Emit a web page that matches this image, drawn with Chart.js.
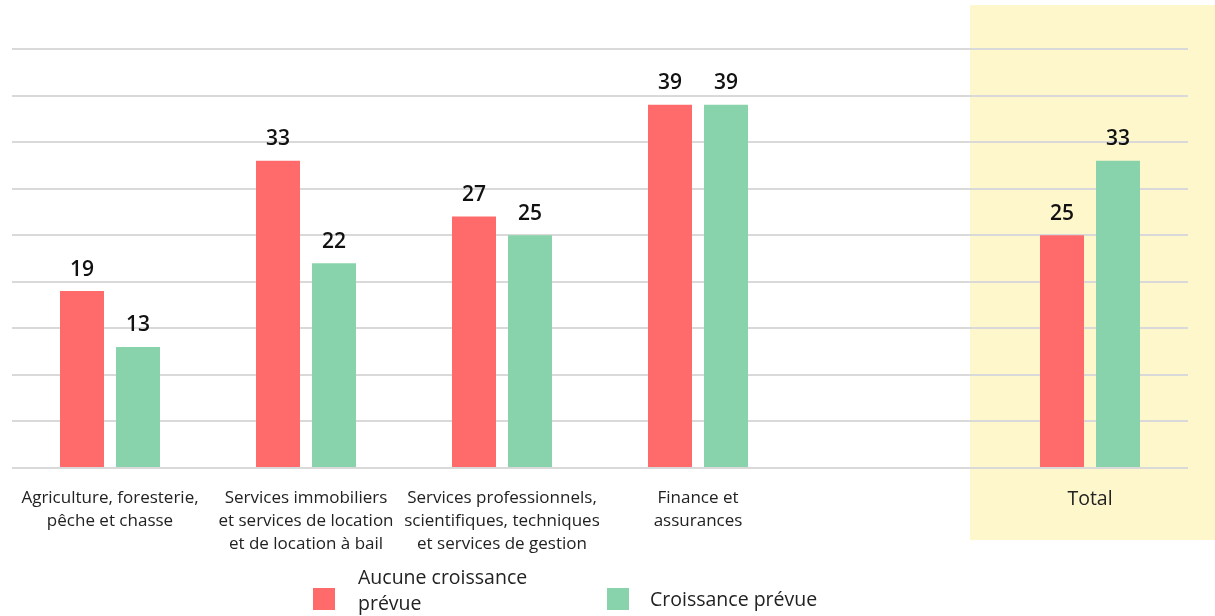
<!DOCTYPE html>
<html lang="fr">
<head>
<meta charset="utf-8">
<title>Croissance prévue par secteur</title>
<script src="https://cdn.jsdelivr.net/npm/chart.js@4.4.1/dist/chart.umd.min.js"></script>
<style>
    html, body { margin: 0; padding: 0; background: #fff; }
    #wrap { position: relative; width: 1215px; height: 616px; }
</style>
</head>
<body>
<div id="wrap"><canvas id="growthChart" width="1215" height="616"></canvas></div>
<script>
// ── Data ──────────────────────────────────────────────────────
const CATEGORIES = [
    ["Agriculture, foresterie,", "pêche et chasse"],
    ["Services immobiliers", "et services de location", "et de location à bail"],
    ["Services professionnels,", "scientifiques, techniques", "et services de gestion"],
    ["Finance et", "assurances"],
    "",
    "Total"
];
const NO_GROWTH  = [19, 33, 27, 39, null, 25];
const GROWTH     = [13, 22, 25, 39, null, 33];
const SERIES_NAMES = [["Aucune croissance", "prévue"], ["Croissance prévue"]];
const Y_MAX  = 45;
const Y_STEP = 5;

const RED    = "#ff6b6b";
const GREEN  = "#88d3ab";
const YELLOW = "#fff7cc";
const FONT   = "'Open Sans', 'Noto Sans', sans-serif";

// ── Plugins ───────────────────────────────────────────────────
// Pale band behind the "Total" group
const totalBand = {
    id: "totalBand",
    beforeDraw(chart) {
        const { ctx } = chart;
        const x = chart.scales.x.getPixelForValue(CATEGORIES.length - 1);
        ctx.save();
        ctx.fillStyle = YELLOW;
        ctx.fillRect(x - 120, 5, chart.width - (x - 120), 535);
        ctx.restore();
    }
};

// Value above each bar
const barValues = {
    id: "barValues",
    afterDatasetsDraw(chart) {
        const { ctx } = chart;
        ctx.save();
        ctx.font = `600 21px ${FONT}`;
        ctx.fillStyle = "#111";
        ctx.textAlign = "center";
        ctx.textBaseline = "bottom";
        chart.data.datasets.forEach((ds, di) => {
            chart.getDatasetMeta(di).data.forEach((bar, i) => {
                if (ds.data[i] == null) return;
                ctx.fillText(ds.data[i], bar.x, bar.y - 11);
            });
        });
        ctx.restore();
    }
};

// Legend drawn under the axis labels
const bottomLegend = {
    id: "bottomLegend",
    afterDraw(chart) {
        const { ctx } = chart;
        const items = [
            { color: RED,   box: 313, text: 358 },
            { color: GREEN, box: 607, text: 650 }
        ];
        ctx.save();
        ctx.font = `19.5px ${FONT}`;
        ctx.textBaseline = "middle";
        items.forEach((it, i) => {
            ctx.fillStyle = it.color;
            ctx.fillRect(it.box, 588, 22, 22);
            ctx.fillStyle = "#222";
            const lines = SERIES_NAMES[i];
            const top = lines.length > 1 ? 578 : 600;
            lines.forEach((ln, k) => ctx.fillText(ln, it.text, top + k * 26));
        });
        ctx.restore();
    }
};

// ── Chart ─────────────────────────────────────────────────────
new Chart(document.getElementById("growthChart"), {
    type: "bar",
    data: {
        labels: CATEGORIES,
        datasets: [
            { label: SERIES_NAMES[0].join(" "), data: NO_GROWTH, backgroundColor: RED },
            { label: SERIES_NAMES[1].join(" "), data: GROWTH,    backgroundColor: GREEN }
        ]
    },
    options: {
        responsive: false,
        animation: false,
        categoryPercentage: 0.5714,
        barPercentage: 0.7857,
        layout: { padding: { left: 12, right: 27, top: 49, bottom: 0 } },
        plugins: {
            legend: { display: false },
            tooltip: { enabled: false }
        },
        scales: {
            x: {
                grid: { display: false },
                border: { display: false },
                ticks: {
                    color: "#222",
                    padding: 10,
                    maxRotation: 0,
                    autoSkip: false,
                    // the Total label is set a little larger
                    font: c => ({
                        family: FONT,
                        size: c.index === CATEGORIES.length - 1 ? 19.5 : 17,
                        lineHeight: 1.38
                    })
                },
                afterFit: s => { s.height = 148; }
            },
            y: {
                display: true,
                min: 0,
                max: Y_MAX,
                ticks: { display: false, stepSize: Y_STEP },
                border: { display: false },
                grid: { color: "#d9d9d9", lineWidth: 2, drawTicks: false }
            }
        }
    },
    plugins: [totalBand, barValues, bottomLegend]
});
</script>
</body>
</html>
